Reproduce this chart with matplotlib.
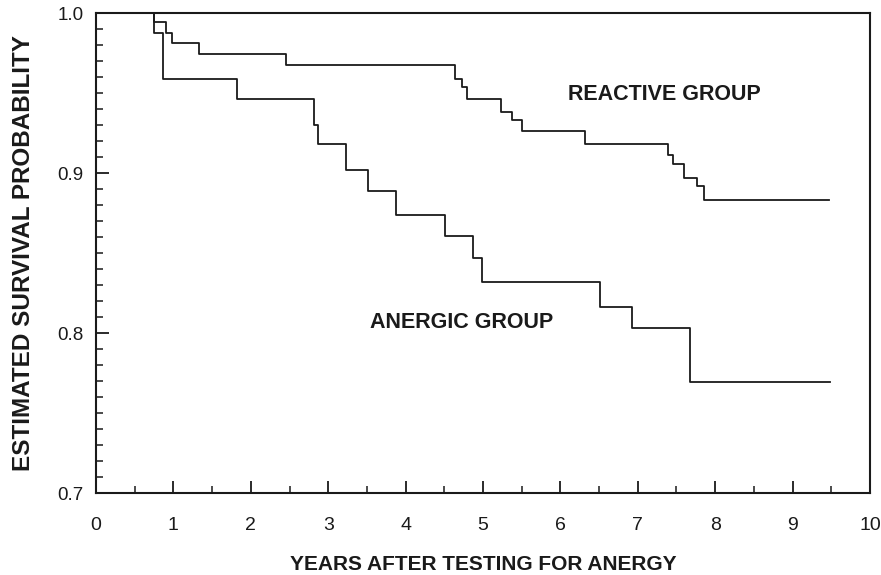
import matplotlib
matplotlib.use("Agg")
from matplotlib import pyplot as plt
from matplotlib.ticker import MultipleLocator

# Kaplan-Meier step points (years, survival probability)
reactive_years = [0, 0.75, 0.90, 0.98, 1.33, 2.45, 4.64, 4.73, 4.79, 5.23, 5.37, 5.50,
                  6.32, 7.39, 7.46, 7.60, 7.76, 7.86, 9.47]
reactive_surv = [1.0, 0.9946, 0.9875, 0.9814, 0.9744, 0.9678, 0.9592, 0.9542, 0.9463,
                 0.9386, 0.9331, 0.9264, 0.9183, 0.9113, 0.9056, 0.8973, 0.8921, 0.8831, 0.8831]

anergic_years = [0, 0.75, 0.87, 1.82, 2.81, 2.87, 3.23, 3.52, 3.87, 4.51, 4.87, 4.99,
                 6.51, 6.93, 7.68, 9.48]
anergic_surv = [1.0, 0.9875, 0.9592, 0.9463, 0.9302, 0.9181, 0.9021, 0.8889, 0.8737,
                0.8608, 0.8473, 0.8323, 0.8164, 0.8031, 0.7696, 0.7696]

x_ticks = list(range(0, 11))
y_ticks = [0.7, 0.8, 0.9, 1.0]
y_tick_labels = ["0.7", "0.8", "0.9", "1.0"]

ink = "#1a1a1a"
sans = ["Liberation Sans", "DejaVu Sans"]

fig = plt.figure(figsize=(8.81, 5.75), dpi=100)
ax = fig.add_axes([0.109, 0.142, 0.8785, 0.8347])

ax.step(reactive_years, reactive_surv, where="post", color=ink, lw=1.3)
ax.step(anergic_years, anergic_surv, where="post", color=ink, lw=1.3)

ax.set_xlim(0, 10)
ax.set_ylim(0.7, 1.0)

ax.set_xticks(x_ticks)
ax.xaxis.set_minor_locator(MultipleLocator(0.5))
ax.set_yticks(y_ticks)
ax.set_yticklabels(y_tick_labels)
ax.yaxis.set_minor_locator(MultipleLocator(0.01))

ax.tick_params(axis="both", which="major", direction="in", length=9, width=1.3, color=ink)
ax.tick_params(axis="both", which="minor", direction="in", length=5, width=1.1, color=ink)
ax.tick_params(axis="x", which="major", pad=17)
ax.tick_params(axis="y", which="major", pad=9)

for lab in ax.get_xticklabels():
    lab.set_family(sans)
    lab.set_fontsize(14)
    lab.set_color(ink)
for lab in ax.get_yticklabels():
    lab.set_family(sans)
    lab.set_fontsize(13.5)
    lab.set_color(ink)

for sp in ax.spines.values():
    sp.set_linewidth(1.5)
    sp.set_color(ink)

ax.set_xlabel("YEARS AFTER TESTING FOR ANERGY", family=sans,
              fontsize=15, fontweight="bold", color=ink, labelpad=15)
ax.set_ylabel("ESTIMATED SURVIVAL PROBABILITY", family=sans,
              fontsize=17.5, fontweight="bold", color=ink, labelpad=16)

ax.text(6.10, 0.949, "REACTIVE GROUP", family=sans,
        fontsize=15.5, fontweight="bold", color=ink, va="center", ha="left")
ax.text(3.54, 0.807, "ANERGIC GROUP", family=sans,
        fontsize=15.5, fontweight="bold", color=ink, va="center", ha="left")

fig.savefig("out.png", dpi=100)
